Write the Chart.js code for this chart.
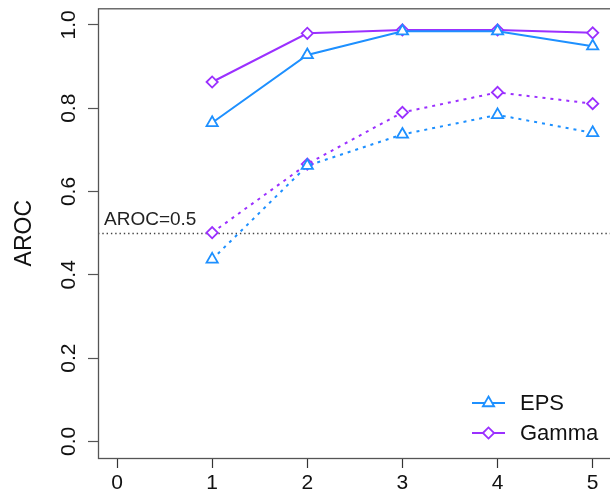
<!DOCTYPE html>
<html>
<head>
<meta charset="utf-8">
<script src="https://cdn.jsdelivr.net/npm/chart.js@4/dist/chart.umd.min.js"></script>
<style>
  html, body { margin: 0; padding: 0; background: #fff; overflow: hidden; }
  canvas { display: block; }
</style>
</head>
<body>
<canvas id="arocChart" width="620" height="503"></canvas>
<script>
// Values
const xValues = [1, 2, 3, 4, 5];
const xTicks = [0, 1, 2, 3, 4, 5];
const yTicks = [0, 0.2, 0.4, 0.6, 0.8, 1.0];
const yTickLabels = ['0.0', '0.2', '0.4', '0.6', '0.8', '1.0'];

const epsSolid = [0.765, 0.928, 0.985, 0.985, 0.949];
const gammaSolid = [0.863, 0.980, 0.988, 0.988, 0.981];
const epsDotted = [0.437, 0.662, 0.737, 0.784, 0.741];
const gammaDotted = [0.501, 0.666, 0.790, 0.838, 0.811];

const seriesNames = ['EPS', 'Gamma'];
const seriesColors = ['#1E90FF', '#9B30FF'];
const seriesPoints = ['triangle', 'rectRot'];
const pointRadii = [6.5, 5.6];

const refValue = 0.5;
const refLabel = 'AROC=0.5';
const yTitle = 'AROC';

const FONT = '"Liberation Sans", Arial, Helvetica, sans-serif';

function toXY(values) {
    return values.map((v, i) => ({ x: xValues[i], y: v }));
}

function makeSeries(values, idx, dotted, order) {
    return {
        label: seriesNames[idx] + (dotted ? ' (dotted)' : ''),
        data: toXY(values),
        borderColor: seriesColors[idx],
        borderWidth: 2,
        borderDash: dotted ? [3, 5] : [],
        pointStyle: seriesPoints[idx],
        pointRadius: pointRadii[idx],
        pointBorderWidth: 1.8,
        pointBorderColor: seriesColors[idx],
        pointBackgroundColor: '#fff',
        tension: 0,
        fill: false,
        order: order
    };
}

// Draw a marker the same way for the legend
function drawMarker(ctx, style, r, x, y) {
    ctx.beginPath();
    if (style === 'triangle') {
        for (let k = 0; k < 3; k++) {
            const a = k * 2 * Math.PI / 3;
            const px = x + Math.sin(a) * r;
            const py = y - Math.cos(a) * r;
            if (k === 0) ctx.moveTo(px, py); else ctx.lineTo(px, py);
        }
    } else {
        ctx.moveTo(x - r, y);
        ctx.lineTo(x, y - r);
        ctx.lineTo(x + r, y);
        ctx.lineTo(x, y + r);
    }
    ctx.closePath();
    ctx.fill();
    ctx.stroke();
}

const rPlotPlugin = {
    id: 'rPlot',
    beforeDatasetsDraw(chart) {
        const { ctx, chartArea: a, scales: { y } } = chart;
        const py = Math.round(y.getPixelForValue(refValue)) + 0.5;
        ctx.save();
        ctx.strokeStyle = '#444';
        ctx.lineWidth = 1.4;
        ctx.setLineDash([1.4, 2.9]);
        ctx.beginPath();
        ctx.moveTo(a.left, py);
        ctx.lineTo(a.right, py);
        ctx.stroke();
        ctx.setLineDash([]);
        ctx.fillStyle = '#222';
        ctx.font = '19px ' + FONT;
        ctx.textAlign = 'left';
        ctx.textBaseline = 'alphabetic';
        ctx.fillText(refLabel, a.left + 6, py - 9);
        ctx.restore();
    },
    afterDraw(chart) {
        const { ctx, chartArea: a, scales: { y } } = chart;
        ctx.save();

        // plot box
        ctx.strokeStyle = '#555';
        ctx.lineWidth = 1.3;
        ctx.strokeRect(a.left + 0.5, a.top + 0.5, a.right - a.left, a.bottom - a.top);

        // y tick labels, rotated like R's default
        ctx.fillStyle = '#111';
        ctx.font = '21px ' + FONT;
        ctx.textAlign = 'center';
        ctx.textBaseline = 'alphabetic';
        yTicks.forEach((v, i) => {
            const py = y.getPixelForValue(v);
            ctx.save();
            ctx.translate(a.left - 23, py);
            ctx.rotate(-Math.PI / 2);
            ctx.fillText(yTickLabels[i], 0, 0);
            ctx.restore();
        });

        // legend (line + marker, bottom right)
        const lx0 = a.left + 374, lx1 = a.left + 407;
        const ly0 = a.bottom - 55;
        ctx.font = '22px ' + FONT;
        ctx.textAlign = 'left';
        ctx.textBaseline = 'middle';
        seriesNames.forEach((name, i) => {
            const ly = ly0 + i * 30;
            ctx.strokeStyle = seriesColors[i];
            ctx.fillStyle = '#fff';
            ctx.lineWidth = 2;
            ctx.beginPath();
            ctx.moveTo(lx0, ly);
            ctx.lineTo(lx1, ly);
            ctx.stroke();
            ctx.lineWidth = 1.8;
            drawMarker(ctx, seriesPoints[i], pointRadii[i], (lx0 + lx1) / 2, ly);
            ctx.fillStyle = '#111';
            ctx.fillText(name, lx1 + 15, ly + 1);
        });
        ctx.restore();
    }
};

const ctx = document.getElementById('arocChart').getContext('2d');
new Chart(ctx, {
    type: 'line',
    data: {
        datasets: [
            makeSeries(epsSolid, 0, false, 1),
            makeSeries(gammaSolid, 1, false, 2),
            makeSeries(epsDotted, 0, true, 3),
            makeSeries(gammaDotted, 1, true, 4)
        ]
    },
    options: {
        responsive: false,
        animation: false,
        devicePixelRatio: 1,
        layout: { padding: { left: 0, top: 7, right: 6, bottom: 0 } },
        plugins: {
            legend: { display: false },
            tooltip: { enabled: false }
        },
        scales: {
            x: {
                type: 'linear',
                min: -0.2,
                max: 5.2,
                afterBuildTicks: (scale) => { scale.ticks = xTicks.map(v => ({ value: v })); },
                afterFit: (scale) => { scale.height = 45; scale.paddingLeft = 0; scale.paddingRight = 0; },
                grid: { drawOnChartArea: false, drawTicks: true, tickLength: 10, tickColor: '#333', tickWidth: 1.2 },
                border: { display: false },
                ticks: {
                    padding: 3,
                    maxRotation: 0,
                    autoSkip: false,
                    color: '#111',
                    font: { family: FONT, size: 21 },
                    callback: (v) => String(v)
                }
            },
            y: {
                type: 'linear',
                min: -0.04,
                max: 1.04,
                afterBuildTicks: (scale) => { scale.ticks = yTicks.map(v => ({ value: v })); },
                afterFit: (scale) => { scale.width = 98; scale.paddingTop = 0; scale.paddingBottom = 0; },
                grid: { drawOnChartArea: false, drawTicks: true, tickLength: 10, tickColor: '#555', tickWidth: 1.2 },
                border: { display: false },
                ticks: { display: false },
                title: {
                    display: true,
                    text: yTitle,
                    color: '#111',
                    font: { family: FONT, size: 23 },
                    padding: { top: 11, bottom: 0 }
                }
            }
        }
    },
    plugins: [rPlotPlugin]
});
</script>
</body>
</html>
